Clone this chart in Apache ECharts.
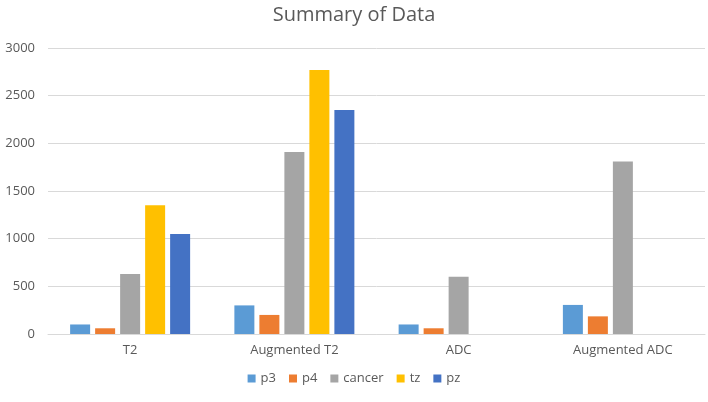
<!DOCTYPE html>
<html>
<head>
<meta charset="utf-8">
<script src="https://cdn.jsdelivr.net/npm/echarts@6/dist/echarts.min.js"></script>
<style>
  html, body { margin: 0; padding: 0; background: #fff; }
  #chart { width: 708px; height: 402px; }
</style>
</head>
<body>
<div id="chart"></div>
<script>
// data
var categories = ['T2', 'Augmented T2', 'ADC', 'Augmented ADC'];
var p3 = [100, 300, 100, 305];
var p4 = [60, 200, 60, 185];
var cancer = [630, 1910, 600, 1810];
var tz = [1350, 2770, 0, 0];
var pz = [1050, 2350, 0, 0];

var names = ['p3', 'p4', 'cancer', 'tz', 'pz'];
var values = [p3, p4, cancer, tz, pz];
var colors = ['#5b9bd5', '#ed7d31', '#a5a5a5', '#ffc000', '#4472c4'];

var seriesArr = [];
for (let i = 0; i < names.length; i++) {
  seriesArr.push({
    name: names[i],
    type: 'bar',
    data: values[i],
    barWidth: 20,
    barGap: '25%',
    itemStyle: { color: colors[i] }
  });
}

var option = {
  animation: false,
  textStyle: { fontFamily: 'Open Sans' },
  title: {
    text: 'Summary of Data',
    left: 'center',
    top: 0,
    textStyle: { color: '#595959', fontSize: 20, fontWeight: 'normal', fontFamily: 'Open Sans' }
  },
  legend: {
    data: names,
    bottom: 12,
    left: 'center',
    itemWidth: 8,
    itemHeight: 8,
    itemGap: 13,
    icon: 'rect',
    textStyle: { color: '#595959', fontSize: 13 }
  },
  grid: {
    left: 48,
    right: 3,
    top: 48,
    bottom: 68
  },
  xAxis: {
    type: 'category',
    data: categories,
    axisTick: { show: false },
    axisLine: { lineStyle: { color: '#d9d9d9', width: 1 } },
    axisLabel: { color: '#595959', fontSize: 13, margin: 10 }
  },
  yAxis: {
    type: 'value',
    min: 0,
    max: 3000,
    interval: 500,
    axisLine: { show: false },
    axisTick: { show: false },
    axisLabel: {
      color: '#595959',
      fontSize: 13,
      margin: 13,
      formatter: function (v) { return String(v); }
    },
    splitLine: { lineStyle: { color: '#d9d9d9', width: 1 } }
  },
  series: seriesArr
};

var myChart = echarts.init(document.getElementById('chart'));
myChart.setOption(option);
</script>
</body>
</html>
